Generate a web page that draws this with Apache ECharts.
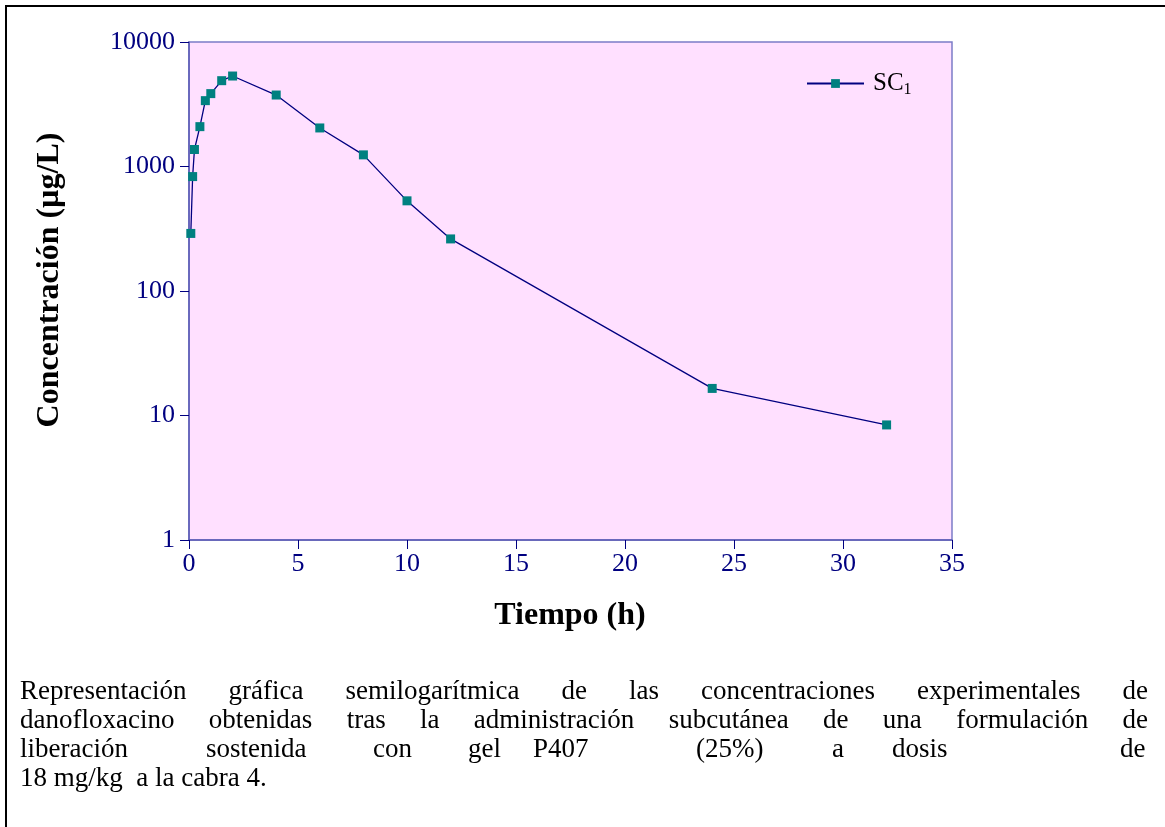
<!DOCTYPE html>
<html>
<head>
<meta charset="utf-8">
<script src="https://cdn.jsdelivr.net/npm/echarts@6/dist/echarts.min.js"></script>
<style>
  html, body { margin: 0; padding: 0; background: #ffffff; }
  #page { position: relative; width: 1165px; height: 827px; overflow: hidden; background: #fff; }
  #frame { position: absolute; left: 5px; top: 5px; width: 1200px; height: 900px;
           border-top: 2px solid #000; border-left: 2px solid #000; box-sizing: border-box; }
  #chart { position: absolute; left: 0; top: 0; width: 1165px; height: 827px; }
  #caption { position: absolute; left: 20px; top: 676px; width: 1128px;
             font-family: "Liberation Serif", "Times New Roman", serif; font-size: 27px;
             line-height: 29px; color: #000; }
  #caption .j { text-align: justify; text-align-last: justify; white-space: normal; }
  #caption .l { text-align: left; white-space: pre; }
  #caption .t { position: relative; height: 29px; white-space: pre; }
  #caption .t span { position: absolute; top: 0; }
</style>
</head>
<body>
<div id="page">
  <div id="frame"></div>
  <div id="chart"></div>
  <div id="caption">
    <div class="j">Representación gráfica semilogarítmica de las concentraciones experimentales de</div>
    <div class="j">danofloxacino obtenidas tras la administración subcutánea de una formulación de</div>
    <div class="t" id="tabbed"></div>
    <div class="l">18 mg/kg  a la cabra 4.</div>
  </div>
</div>
<script>
// Sampling times (h) and danofloxacin plasma concentrations (µg/L), goat 4, SC gel P407 25 %
const tiempos = [0.083, 0.167, 0.25, 0.5, 0.75, 1, 1.5, 2, 4, 6, 8, 10, 12, 24, 32];
const concentraciones = [290, 830, 1370, 2090, 3380, 3850, 4890, 5330, 3750, 2040, 1240, 530, 262, 16.5, 8.4];
const nombreSerie = 'SC1';
const tituloX = 'Tiempo (h)';
const tituloY = 'Concentración (µg/L)';

// Third caption line is tab-aligned in the source document: words and their tab stops (px)
const lineaTabulada = ['liberación', 'sostenida', 'con', 'gel', 'P407', '(25%)', 'a', 'dosis', 'de'];
const tabStops = [0, 186, 353, 448, 513, 676, 812, 872, 1100];
const tabbed = document.getElementById('tabbed');
lineaTabulada.forEach((w, i) => {
  const s = document.createElement('span');
  s.textContent = w;
  s.style.left = tabStops[i] + 'px';
  tabbed.appendChild(s);
});

const serif = '"Liberation Serif", "Times New Roman", serif';
const navy = '#000080';

const chart = echarts.init(document.getElementById('chart'), null, { renderer: 'canvas' });

chart.setOption({
  animation: false,
  backgroundColor: 'transparent',
  grid: {
    left: 189, top: 42, width: 763, height: 498,
    show: true, backgroundColor: '#ffe0ff',
    borderColor: '#7c7cc8', borderWidth: 1.5
  },
  legend: {
    left: 806, top: 71, padding: 0,
    itemWidth: 57, itemHeight: 11,
    data: [{ name: nombreSerie }],
    formatter: () => '{a|SC}{b|1}',
    textStyle: {
      rich: {
        a: { fontFamily: serif, fontSize: 25, color: '#000', lineHeight: 28, padding: [0, 0, 0, 4] },
        b: { fontFamily: serif, fontSize: 16, color: '#000', lineHeight: 16, verticalAlign: 'bottom' }
      }
    }
  },
  xAxis: {
    type: 'value', min: 0, max: 35, interval: 5,
    axisLine: { onZero: false, lineStyle: { color: '#5a5ab4', width: 1.5 } },
    axisTick: { show: true, length: 9, lineStyle: { color: navy, width: 1 } },
    axisLabel: { color: navy, fontFamily: serif, fontSize: 26, margin: 11 },
    splitLine: { show: false }
  },
  yAxis: {
    type: 'log', logBase: 10, min: 1, max: 10000,
    axisLine: { show: true, lineStyle: { color: '#5a5ab4', width: 1.5 } },
    axisTick: { show: true, length: 9, lineStyle: { color: navy, width: 1 } },
    axisLabel: { color: navy, fontFamily: serif, fontSize: 26, margin: 14,
                 formatter: v => String(Math.round(v)) },
    splitLine: { show: false },
    minorTick: { show: false }
  },
  graphic: [
    {
      type: 'text', x: 570, y: 616,
      style: { text: tituloX, font: 'bold 32px ' + serif, fill: '#000',
               align: 'center', verticalAlign: 'middle' }
    },
    {
      type: 'text', x: 50, y: 280, rotation: Math.PI / 2,
      style: { text: tituloY, font: 'bold 32px ' + serif, fill: '#000',
               align: 'center', verticalAlign: 'middle' }
    }
  ],
  series: [{
    name: nombreSerie,
    type: 'line',
    data: tiempos.map((t, i) => [t, concentraciones[i]]),
    symbol: 'rect', symbolSize: 9,
    itemStyle: { color: '#008080' },
    lineStyle: { color: navy, width: 1.3 },
    z: 3
  }]
});
</script>
</body>
</html>
